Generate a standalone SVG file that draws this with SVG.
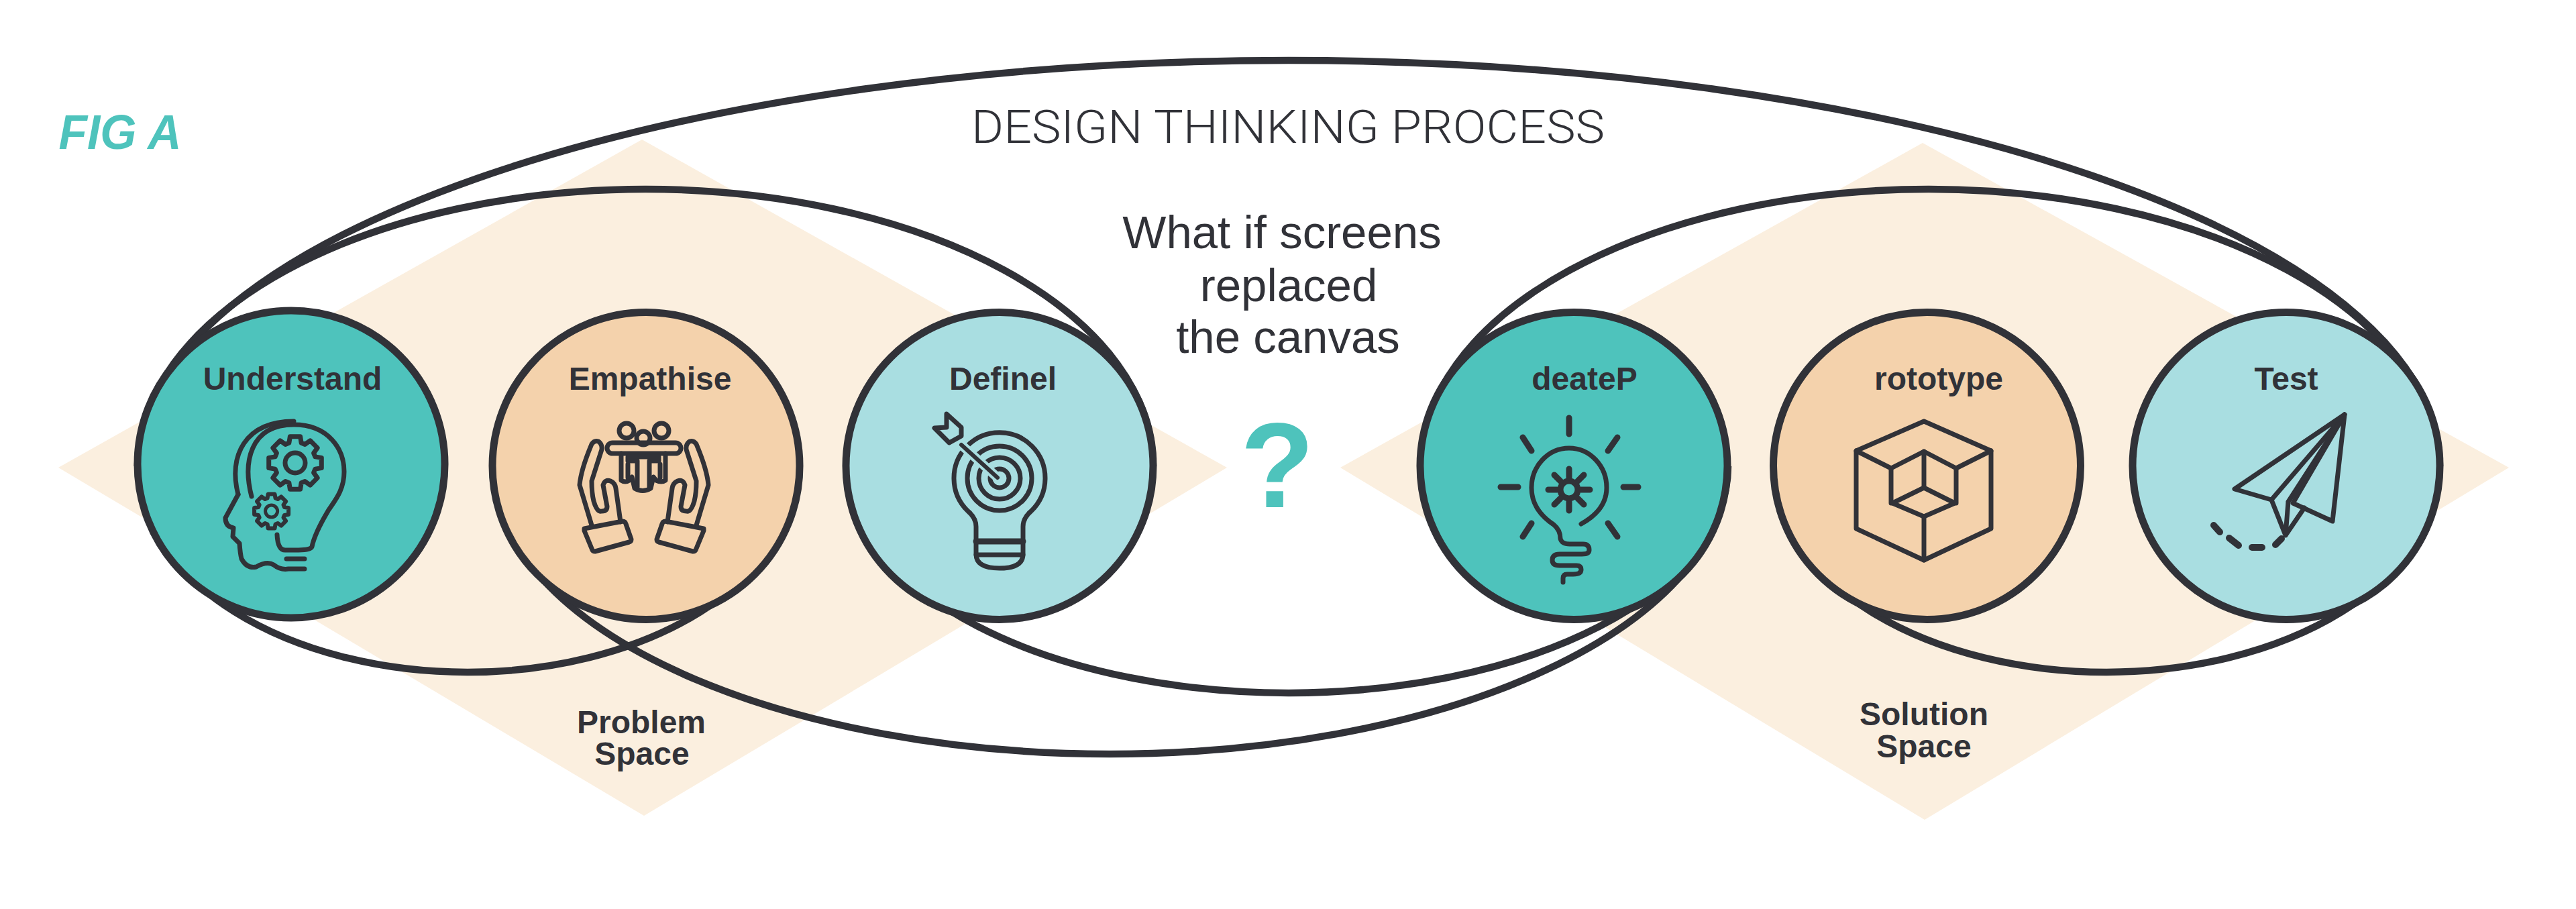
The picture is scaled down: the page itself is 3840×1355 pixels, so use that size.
<svg xmlns="http://www.w3.org/2000/svg" xmlns:xlink="http://www.w3.org/1999/xlink" width="3840" height="1355" viewBox="0 0 3840 1355">
<style>
.t{font-family:"Liberation Sans",Arial,sans-serif;fill:#313238;text-anchor:middle}
.b{font-weight:700;font-size:48px}
.q{font-size:69px}
.arc{fill:none;stroke:#313238;stroke-width:10.5}
.c{stroke:#313238;stroke-width:11}
.ic{fill:none;stroke:#313238;stroke-width:7;stroke-linejoin:round;stroke-linecap:round}
</style>
<defs>
<path id="gear" d="M9.82 -1.91L9.82 1.91L7.46 2.28L6.89 3.66L8.29 5.59L5.59 8.29L3.66 6.89L2.28 7.46L1.91 9.82L-1.91 9.82L-2.28 7.46L-3.66 6.89L-5.59 8.29L-8.29 5.59L-6.89 3.66L-7.46 2.28L-9.82 1.91L-9.82 -1.91L-7.46 -2.28L-6.89 -3.66L-8.29 -5.59L-5.59 -8.29L-3.66 -6.89L-2.28 -7.46L-1.91 -9.82L1.91 -9.82L2.28 -7.46L3.66 -6.89L5.59 -8.29L8.29 -5.59L6.89 -3.66L7.46 -2.28Z"/>
</defs>
<rect width="3840" height="1355" fill="#fff"/>
<g id="spaces" fill="#FBEFDF">
<polygon points="87,697 957,208 1829,697 960,1216"/>
<polygon points="1998,697 2866,213 3740,697 2869,1222"/>
</g>
<g id="connectors">
<path class="arc" d="M205 695A1716 605 0 0 1 3637 695"/>
<path class="arc" d="M205 695A757 413 0 0 1 1719 695"/>
<path class="arc" d="M2118 695A757 413 0 0 1 3632 695"/>
<path class="arc" d="M206 695A491 307 0 0 0 1188 695"/>
<path class="arc" d="M1266 695A655 338 0 0 0 2576 695"/>
<path class="arc" d="M735 695A920 429 0 0 0 2575 695"/>
<path class="arc" d="M2644 695A496 307 0 0 0 3636 695"/>
</g>
<g id="understand">
<circle class="c" cx="434" cy="692" r="229" fill="#4EC3BC"/>
<text class="t b" x="436" y="581">Understand</text>
<g class="ic">
<path d="M375 740C362 690 372 633 438 633C490 633 513 670 513 703C513 730 500 745 490 760C475 785 468 800 465 815Q463 820 445 820H425Q414 820 413 797"/>
<path d="M355 737C340 680 365 628 438 628"/>
<path d="M355 737L336 772Q336 785 348 787L347 800L357 810Q358 825 360 833Q368 848 382 845Q398 836 408 842Q418 850 430 848H454"/>
<path d="M427 833H454"/>
<use xlink:href="#gear" href="#gear" transform="translate(440 690) scale(4)" stroke-width="1.75"/>
<circle cx="440" cy="690" r="15"/>
<use xlink:href="#gear" href="#gear" transform="translate(404.6 762) scale(2.6)" stroke-width="2.3"/>
<circle cx="404.6" cy="762" r="9" stroke-width="5"/>
</g>
</g>
<g id="empathise">
<circle class="c" cx="963" cy="694.5" r="229" fill="#F4D2AC"/>
<text class="t b" x="969" y="581">Empathise</text>
<g class="ic" stroke-width="6">
<circle cx="934" cy="642" r="11"/>
<circle cx="986" cy="642" r="11"/>
<circle cx="959" cy="653" r="10"/>
<rect x="905" y="660" width="110" height="16" rx="8"/>
<path d="M926 676V716Q932 720 938 716L942 711L946 728Q958 735 970 728L974 711L978 716Q986 720 992 716V676"/>
<path d="M936 681H982V687H968V726M936 681V687H950V726M936 692V712M984 692V712"/>
<path id="hand" d="M882 783L864 723Q866 700 882 662Q886 656 892 658Q898 662 897 670L882 717Q882 735 885 747Q890 764 897 762Q905 762 905 755L899 723Q902 714 910 717Q917 720 918 728L925 778"/>
<path d="M871 788L928 777Q932 777 933 781L941 804Q941 807 938 808L887 822Q884 822 883 820L871 791Z"/>
<use xlink:href="#hand" href="#hand" transform="translate(1920 0) scale(-1 1)"/>
<path d="M871 788L928 777Q932 777 933 781L941 804Q941 807 938 808L887 822Q884 822 883 820L871 791Z" transform="translate(1920 0) scale(-1 1)"/>
</g>
</g>
<g id="define">
<circle class="c" cx="1490" cy="694.5" r="229" fill="#A9DEE1"/>
<text class="t b" x="1495" y="581">Definel</text>
<g class="ic">
<path d="M1455 785Q1455 772 1443 762A68 68 0 1 1 1537 762Q1525 772 1525 785V826Q1525 847 1490 847Q1455 847 1455 826Z"/>
<circle cx="1490" cy="713" r="48"/>
<circle cx="1490" cy="713" r="31"/>
<circle cx="1490" cy="713" r="14"/>
<path d="M1455 807H1525" stroke-width="9"/>
<path d="M1455 827H1525"/>
<path d="M1433 663L1487 712" stroke="#A9DEE1" stroke-width="14"/>
<path d="M1433 663L1487 712" stroke-width="6"/>
<path d="M1411 617L1433 637V650L1415 660L1393 638L1411 637Z"/>
</g>
</g>
<g id="center-text">
<text class="t" x="1920" y="213" textLength="944" lengthAdjust="spacingAndGlyphs" style="font-family:Roboto,'Liberation Sans',sans-serif;font-weight:300;font-size:69px">DESIGN THINKING PROCESS</text>
<text class="t q" x="1911" y="370">What if screens</text>
<text class="t q" x="1921" y="449">replaced</text>
<text class="t q" x="1920" y="526">the canvas</text>
<text class="t" x="1904" y="756" style="font-weight:700;font-size:180px;fill:#4EC3BC">?</text>
<text class="t" x="179" y="222" textLength="183" lengthAdjust="spacingAndGlyphs" style="font-weight:700;font-style:italic;font-size:72px;fill:#4EC3BC">FIG A</text>
</g>
<g id="ideate">
<circle class="c" cx="2346" cy="694.5" r="229" fill="#4EC3BC"/>
<text class="t b" x="2362" y="581">deateP</text>
<g class="ic" stroke-width="8">
<path d="M2357 781Q2395 760 2395 727A56 59 0 1 0 2283 727Q2283 760 2316 782Q2326 790 2326 803Q2328 811 2340 811H2360Q2369 811 2369 820Q2369 826 2358 826H2325Q2314 826 2314 835Q2314 843 2325 843H2350Q2357 843 2357 849Q2357 856 2345 856H2336Q2330 856 2330 862V868"/>
<path stroke-width="9" d="M2339 623V647M2270 652L2283 672M2411 652L2397 672M2237 726H2263M2420 726H2442M2283 780L2270 800M2397 780L2411 800"/>
<circle cx="2339" cy="730" r="13" stroke-width="9"/>
<path stroke-width="9" d="M2339 712V699M2339 748V761M2321 730H2308M2357 730H2370M2326 717L2317 708M2352 717L2361 708M2326 743L2317 752M2352 743L2361 752"/>
</g>
</g>
<g id="prototype">
<circle class="c" cx="2872.5" cy="694.5" r="229" fill="#F4D2AC"/>
<text class="t b" x="2890" y="581">rototype</text>
<g class="ic" stroke-width="8">
<path d="M2868 628L2968 672V788L2868 835L2767 788V672Z"/>
<path d="M2767 672L2819 698L2868 673L2916 698L2968 672"/>
<path d="M2819 698V750M2916 698V750M2868 673V727M2868 770V835"/>
<path d="M2868 727L2914 750L2868 770L2821 750Z"/>
</g>
</g>
<g id="test">
<circle class="c" cx="3408" cy="694.5" r="229" fill="#A9DEE1"/>
<text class="t b" x="3408" y="581">Test</text>
<g class="ic" stroke-width="8">
<path d="M3495 618L3331 729L3386 745L3495 618L3477 777L3418 750L3495 618"/>
<path d="M3386 745L3407 798L3435 757M3411 748L3407 798M3411 748L3495 618"/>
<path d="M3300 783L3309 793M3323 802L3337 813M3357 816H3372M3392 812L3401 803" stroke-width="10"/>
</g>
</g>
<g id="spaces-labels">
<text class="t b" x="956" y="1093">Problem</text>
<text class="t b" x="957" y="1140">Space</text>
<text class="t b" x="2868" y="1081">Solution</text>
<text class="t b" x="2868" y="1129">Space</text>
</g>
</svg>
